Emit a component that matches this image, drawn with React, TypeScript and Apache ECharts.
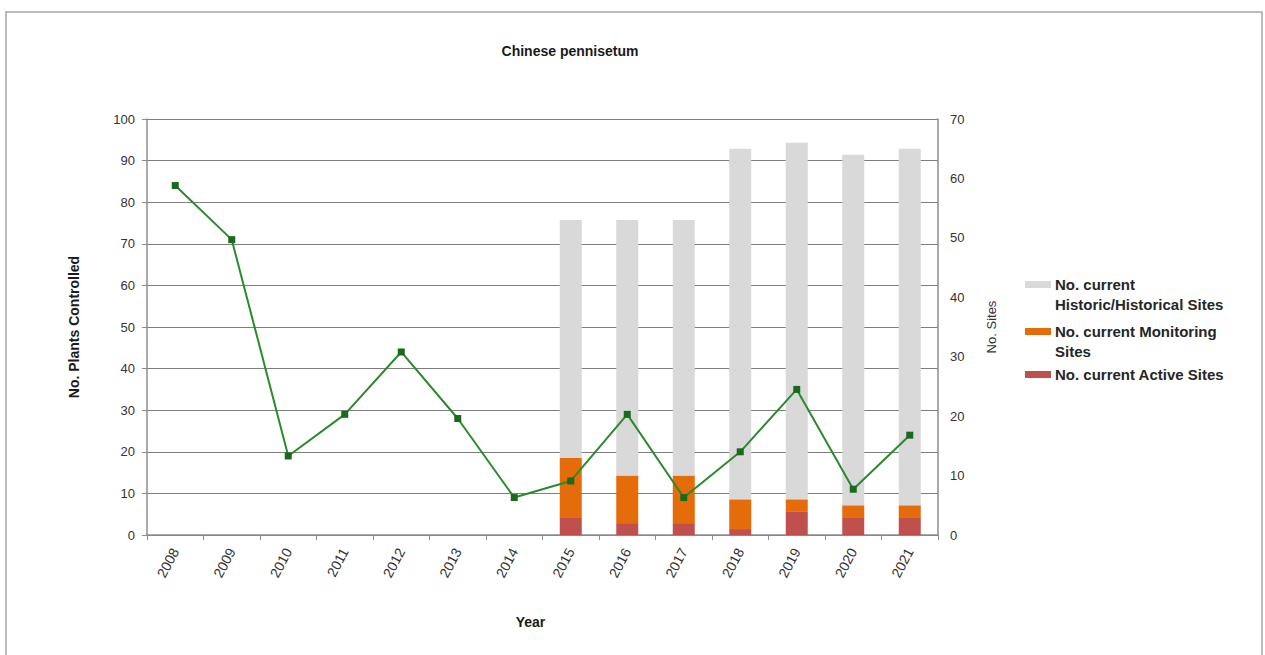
import React, { useEffect, useRef } from "react";
import * as echarts from "echarts";

const years = ["2008", "2009", "2010", "2011", "2012", "2013", "2014", "2015", "2016", "2017", "2018", "2019", "2020", "2021"];
const plantsControlled = [84, 71, 19, 29, 44, 28, 9, 13, 29, 9, 20, 35, 11, 24];
const activeSites = [null, null, null, null, null, null, null, 3, 2, 2, 1, 4, 3, 3];
const monitoringSites = [null, null, null, null, null, null, null, 10, 8, 8, 5, 2, 2, 2];
const historicSites = [null, null, null, null, null, null, null, 40, 43, 43, 59, 60, 59, 60];
const leftTicks = { min: 0, max: 100, interval: 10 };
const rightTicks = { min: 0, max: 70, interval: 10 };

const GRAY = "#d9d9d9";
const ORANGE = "#e46c0a";
const RED = "#c0504d";
const FONT = "Liberation Sans, Arial, sans-serif";

export default function App() {
  const ref = useRef<HTMLDivElement>(null);
  useEffect(() => {
    if (!ref.current) return;
    const chart = echarts.init(ref.current, undefined, { renderer: "svg" });
    const legendItems = [
      { color: GRAY, lines: ["No. current", "Historic/Historical Sites"], y: 284 },
      { color: ORANGE, lines: ["No. current Monitoring", "Sites"], y: 331 },
      { color: RED, lines: ["No. current Active Sites"], y: 374 },
    ];
    const graphics: any[] = [
      {
        type: "rect",
        shape: { x: 6, y: 12, width: 1256, height: 700 },
        style: { fill: "none", stroke: "#a6a6a6", lineWidth: 1.5 },
        silent: true,
      },
    ];
    legendItems.forEach((it) => {
      graphics.push({
        type: "rect",
        shape: { x: 1025, y: it.y - 3, width: 26, height: 7 },
        style: { fill: it.color },
      });
      it.lines.forEach((ln, i) => {
        graphics.push({
          type: "text",
          x: 1055,
          y: it.y + i * 20,
          style: {
            text: ln,
            fill: "#262626",
            font: `bold 15px ${FONT}`,
            textVerticalAlign: "middle",
          },
        });
      });
    });
    chart.setOption({
      animation: false,
      backgroundColor: "#ffffff",
      title: {
        text: "Chinese pennisetum",
        left: 565,
        top: 39,
        textAlign: "center",
        textStyle: { fontFamily: FONT, fontSize: 14, fontWeight: "bold", color: "#1a1a1a" },
      },
      grid: { left: 147, right: 327, top: 119, bottom: 120 },
      xAxis: {
        type: "category",
        data: years,
        name: "Year",
        nameLocation: "middle",
        nameGap: 80,
        nameTextStyle: { fontFamily: FONT, fontSize: 14, fontWeight: "bold", color: "#1a1a1a", padding: [0, 24, 0, 0] },
        axisLine: { lineStyle: { color: "#8c8c8c", width: 1.5 } },
        axisTick: { show: true, lineStyle: { color: "#8c8c8c" }, length: 5 },
        axisLabel: { rotate: 62, fontFamily: FONT, fontSize: 14, color: "#333", margin: 14 },
      },
      yAxis: [
        {
          type: "value",
          ...leftTicks,
          name: "No. Plants Controlled",
          nameLocation: "middle",
          nameRotate: 90,
          nameGap: 66,
          nameTextStyle: { fontFamily: FONT, fontSize: 14, fontWeight: "bold", color: "#1a1a1a" },
          axisLine: { show: true, lineStyle: { color: "#8c8c8c", width: 1.5 } },
          axisTick: { show: true, lineStyle: { color: "#8c8c8c" }, length: 5 },
          axisLabel: { fontFamily: FONT, fontSize: 13, color: "#333", margin: 12 },
          splitLine: { lineStyle: { color: "#7f7f7f", width: 1.2 } },
        },
        {
          type: "value",
          ...rightTicks,
          name: "No. Sites",
          nameLocation: "middle",
          nameRotate: 90,
          nameGap: 47,
          nameTextStyle: { fontFamily: FONT, fontSize: 13, color: "#333" },
          axisLine: { show: true, lineStyle: { color: "#8c8c8c", width: 1.5 } },
          axisTick: { show: false },
          axisLabel: { fontFamily: FONT, fontSize: 13, color: "#333", margin: 12 },
          splitLine: { show: false },
        },
      ],
      graphic: graphics,
      series: [
        {
          name: "No. current Active Sites",
          type: "bar",
          yAxisIndex: 1,
          stack: "sites",
          barWidth: 22,
          data: activeSites,
          itemStyle: { color: RED },
        },
        {
          name: "No. current Monitoring Sites",
          type: "bar",
          yAxisIndex: 1,
          stack: "sites",
          barWidth: 22,
          data: monitoringSites,
          itemStyle: { color: ORANGE },
        },
        {
          name: "No. current Historic/Historical Sites",
          type: "bar",
          yAxisIndex: 1,
          stack: "sites",
          barWidth: 22,
          data: historicSites,
          itemStyle: { color: GRAY },
        },
        {
          name: "No. Plants Controlled",
          type: "line",
          yAxisIndex: 0,
          data: plantsControlled,
          symbol: "rect",
          symbolSize: 7,
          z: 5,
          lineStyle: { color: "#2b8a2b", width: 2 },
          itemStyle: { color: "#1b6a1b" },
        },
      ],
    });
    return () => chart.dispose();
  }, []);
  return (
    <div
      ref={ref}
      style={{ position: "fixed", left: 0, top: 0, width: 1265, height: 655, background: "#fff" }}
    />
  );
}
